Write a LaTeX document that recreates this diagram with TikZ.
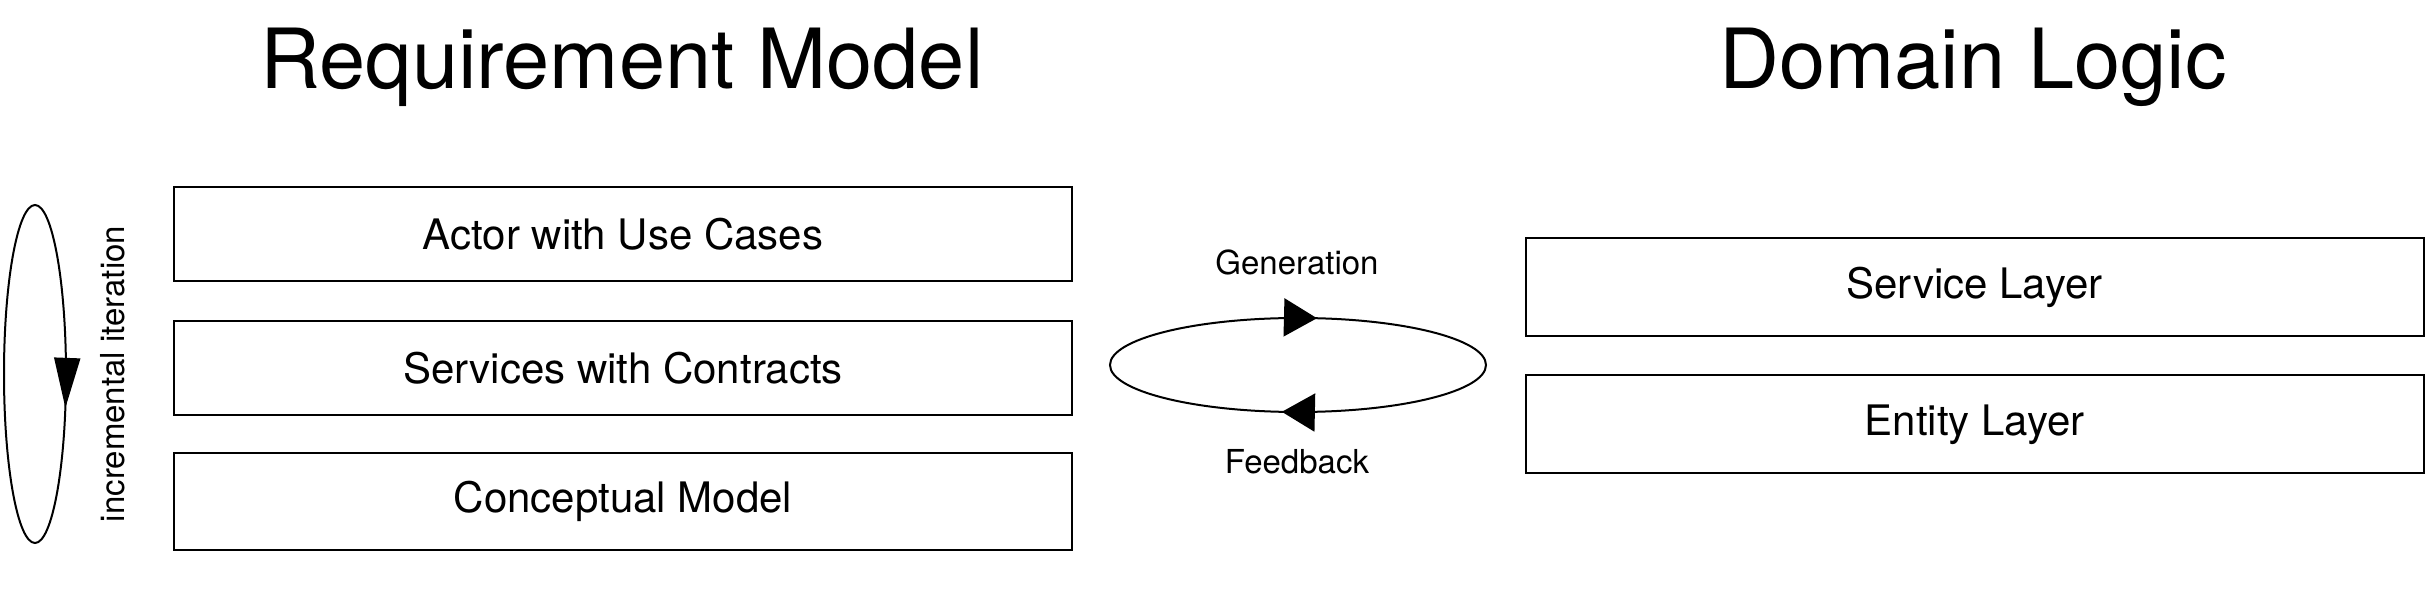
\documentclass[tikz,border=0pt]{standalone}
\usepackage{fontspec}
\setmainfont{TeX Gyre Heros}
\usetikzlibrary{positioning,arrows.meta,decorations.markings}

\begin{document}
\begin{tikzpicture}[
    x=1pt, y=1pt,
    node distance=38pt,
    block/.style={
        rectangle,
        draw=black,
        line width=2pt,
        minimum width=898pt,
        minimum height=94pt,
        align=center,
        font=\fontsize{42}{50}\selectfont
    },
    title/.style={
        anchor=base,
        font=\fontsize{83}{100}\selectfont
    },
    lbl/.style={
        font=\fontsize{33}{40}\selectfont
    },
    iterloop/.style={
        draw=black,
        line width=2pt,
        postaction=decorate
    }
]
\useasboundingbox (0,0) rectangle (2427,591);

% Titoli
\node[title] (req) at (622,502) {Requirement Model};
\node[title] (dom) at (1973,502) {Domain Logic};

% Requirement model (sinistra)
\node[block] (act) at (623,357) {Actor with Use Cases};
\node[block, below=of act] (srv) {Services with Contracts};
\node[block, minimum height=97pt, below=36pt of srv] (con) {Conceptual Model};

% Ciclo incrementale
\coordinate (inc) at (35,217);
\draw[iterloop, decoration={markings,
    mark=at position 0.952 with {\arrowreversed{Triangle[length=50pt,width=26pt]}}}]
    (inc) ellipse (31 and 169);
\node[lbl, rotate=90] (iter) at (113,217) {incremental iteration};

% Domain logic (destra)
\node[block, minimum height=98pt] (svc) at (1974.5,303.5) {Service Layer};
\node[block, minimum height=98pt, below=37pt of svc] (ent) {Entity Layer};

% Generazione / Feedback
\coordinate (gen) at (1298,226);
\draw[iterloop, decoration={markings,
    mark=at position 0.2265 with {\arrowreversed{Triangle[length=33pt,width=38pt]}},
    mark=at position 0.730 with {\arrowreversed{Triangle[length=33pt,width=38pt]}}}]
    (gen) ellipse (188 and 47);
\node[lbl, anchor=base] (gentxt) at (1297,316) {Generation};
\node[lbl, anchor=base] (feed) at (1297,117) {Feedback};

\end{tikzpicture}
\end{document}
